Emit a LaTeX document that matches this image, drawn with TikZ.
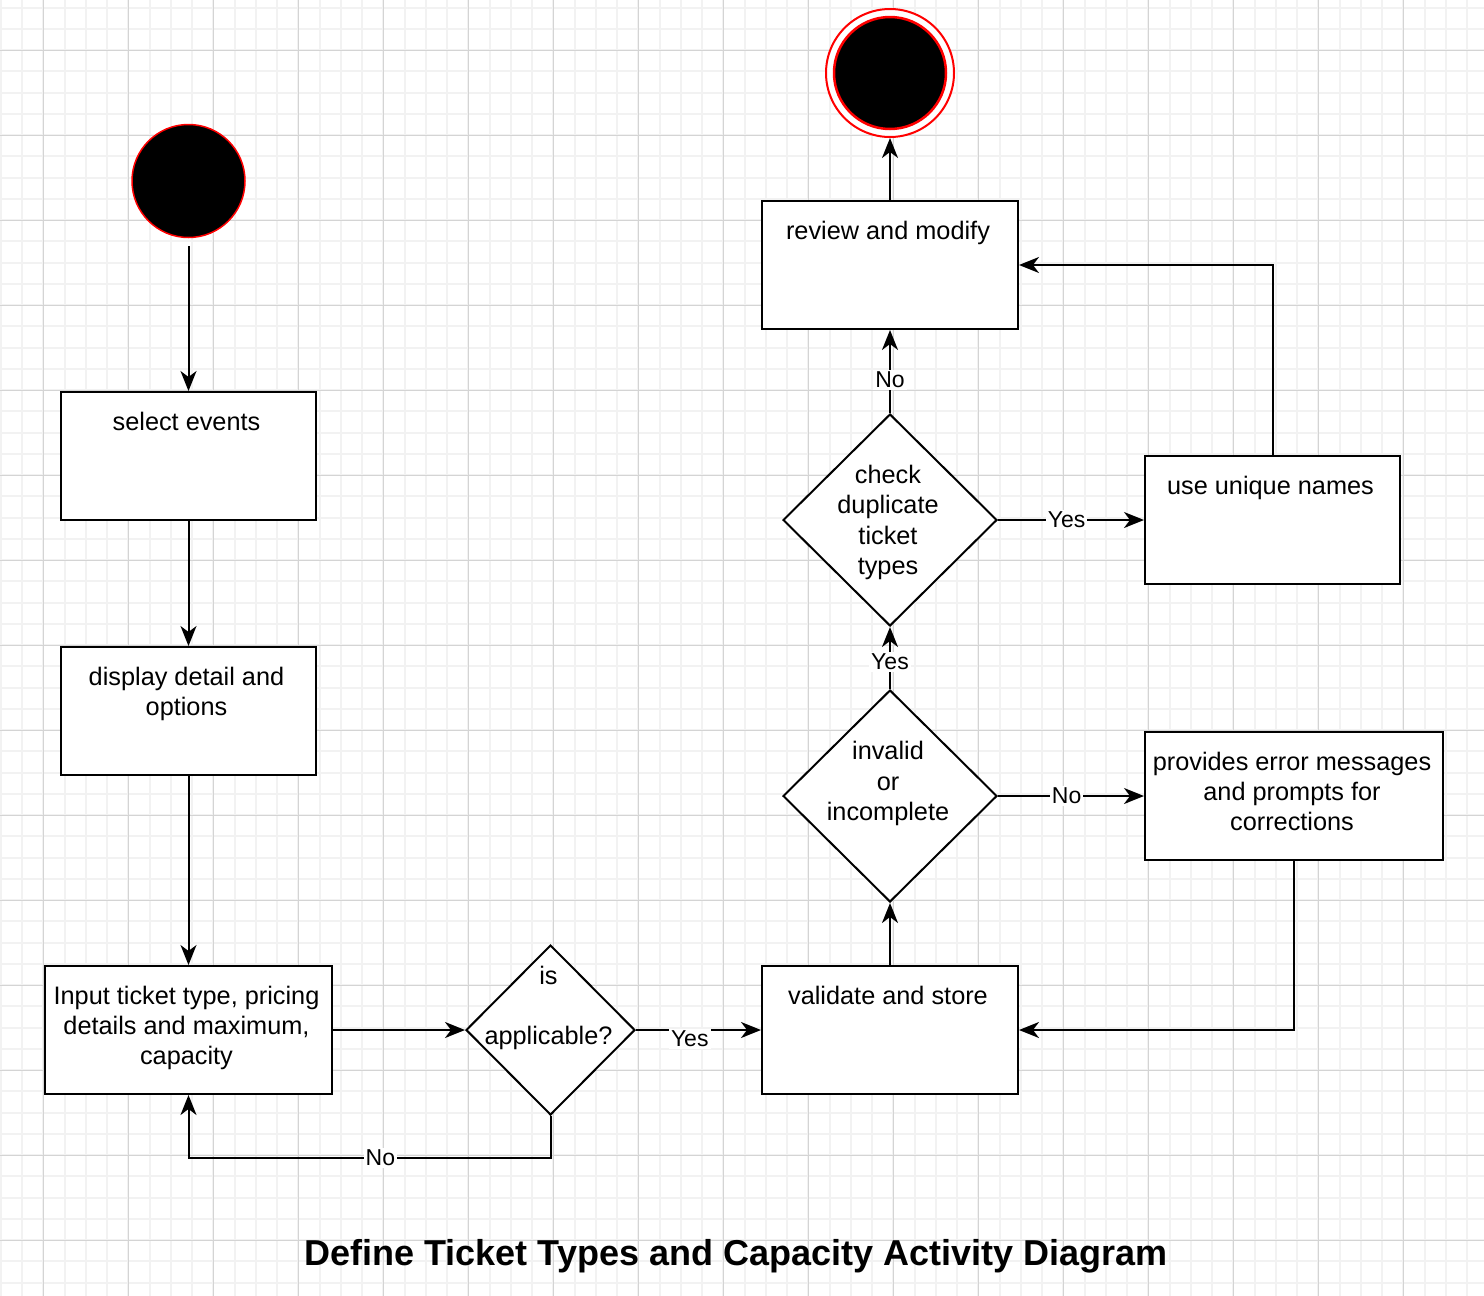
\documentclass[tikz,border=0pt]{standalone}
\usepackage{fontspec}
\setmainfont{Liberation Sans}
\usepackage{tikz}
\usetikzlibrary{arrows.meta,shapes.geometric}

\begin{document}
\begin{tikzpicture}[x=1pt, y=-1pt,
    box/.style={draw, line width=2pt, fill=white, minimum width=255pt, minimum height=128pt, inner sep=0pt},
    boxtext/.style={anchor=north, inner sep=0pt, align=center, xshift=-2pt, yshift=-17.7pt, font=\fontsize{25.3}{30.4}\selectfont},
    decision/.style={draw, diamond, line width=2pt, fill=white, inner sep=0pt},
    dectext/.style={inner sep=0pt, align=center, xshift=-2pt, yshift=-2.5pt, font=\fontsize{25.3}{30.4}\selectfont},
    flow/.style={line width=2pt, -{Stealth[length=20pt, width=16pt, inset=6pt]}},
    lbl/.style={fill=white, inner sep=2pt, font=\fontsize{23}{27.6}\selectfont},
    minorline/.style={draw=black!5, line width=2pt},
    majorline/.style={draw=black!17, line width=1pt}]

    \useasboundingbox (0,0) rectangle (1484,1296);
    \path[fill=white] (0,0) rectangle (1484,1296);

    % grid
    \foreach \i in {0,...,69} \path[minorline] ({0.83+21.25*\i},0) -- ++(0,1296);
    \foreach \j in {0,...,60} \path[minorline] (0,{7.5+21.25*\j}) -- ++(1484,0);
    \foreach \i in {0,...,16} \path[majorline] ({43.33+85*\i},0) -- ++(0,1296);
    \foreach \j in {0,...,14} \path[majorline] (0,{50+85*\j}) -- ++(1484,0);

    % start and end
    \node[circle, draw=red, line width=1.5pt, fill=black, minimum size=113pt, inner sep=0pt] (start) at (188.5,181) {};
    \node[circle, draw=red, line width=2pt, fill=white, minimum size=128pt, inner sep=0pt] (end) at (890,73) {};
    \node[circle, draw=red, line width=2.5pt, fill=black, minimum size=112pt, inner sep=0pt] (enddot) at (890,73) {};

    % left column
    \node[box] (sel) at (188.5,456) {};
    \node[boxtext] (seltxt) at (sel.north) {\strut select events};
    \node[box] (disp) at (188.5,711) {};
    \node[boxtext] (disptxt) at (disp.north) {\strut display detail and\\options};
    \node[box, minimum width=287pt] (inp) at (188.5,1030) {};
    \node[boxtext] (inptxt) at (inp.north) {\strut Input ticket type, pricing\\details and maximum,\\capacity};

    \node[decision, minimum width=169pt, minimum height=170pt] (app) at (550.5,1030) {};
    \node[dectext] (apptxt) at (550.5,1005.8) {is\\[29.6pt]applicable?};

    % right column
    \node[box, minimum width=256pt] (val) at (890,1030) {};
    \node[boxtext] (valtxt) at (val.north) {\strut validate and store};
    \node[decision, minimum width=214pt, minimum height=212pt] (inv) at (890,796) {};
    \node[dectext] (invtxt) at (890,781) {invalid\\or\\incomplete};
    \node[box, minimum width=298pt] (err) at (1294,796) {};
    \node[boxtext] (errtxt) at (err.north) {\strut provides error messages\\and prompts for\\corrections};
    \node[decision, minimum width=214pt, minimum height=212pt] (chk) at (890,520) {};
    \node[dectext] (chktxt) at (890,520) {check\\duplicate\\ticket\\types};
    \node[box] (uniq) at (1272.5,520) {};
    \node[boxtext] (uniqtxt) at (uniq.north) {\strut use unique names};
    \node[box, minimum width=256pt] (rev) at (890,265) {};
    \node[boxtext] (revtxt) at (rev.north) {\strut review and modify};

    % connectors
    \path[draw, flow, shorten <=8pt] (start) -- (sel);
    \path[draw, flow] (sel) -- (disp);
    \path[draw, flow] (disp) -- (inp);
    \path[draw, flow] (inp) -- (app);
    \path[draw, flow] (app) -- node[lbl, pos=0.43, yshift=-9pt] {Yes} (val);
    \path[draw, flow] (app.south) -- ++(0,42) -| node[lbl, pos=0.235] {No} (inp.south);
    \path[draw, flow] (val) -- (inv);
    \path[draw, flow] (inv) -- node[lbl, pos=0.47] {No} (err);
    \path[draw, flow] (err.south) |- (val.east);
    \path[draw, flow] (inv) -- node[lbl, pos=0.44] {Yes} (chk);
    \path[draw, flow] (chk) -- node[lbl, pos=0.47] {Yes} (uniq);
    \path[draw, flow] (uniq.north) |- (rev.east);
    \path[draw, flow] (chk) -- node[lbl, pos=0.4] {No} (rev);
    \path[draw, flow] (rev) -- (end);

    \node[inner sep=0pt, font=\bfseries\fontsize{36}{43}\selectfont] (title) at (736,1256) {Define Ticket Types and Capacity Activity Diagram};

\end{tikzpicture}
\end{document}
